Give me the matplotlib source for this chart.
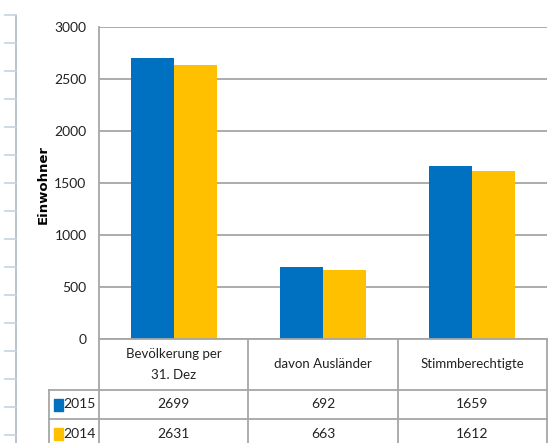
import matplotlib
matplotlib.use("Agg")
import matplotlib.pyplot as plt
from matplotlib.lines import Line2D
from matplotlib.patches import Rectangle
import numpy as np

categories = ["Bevölkerung per\n31. Dez", "davon Ausländer", "Stimmberechtigte"]
series_names = ["2015", "2014"]
values_2015 = [2699, 692, 1659]
values_2014 = [2631, 663, 1612]
y_ticks = [0, 500, 1000, 1500, 2000, 2500, 3000]
y_label = "Einwohner"
colors = ["#0070C0", "#FFC000"]

W, H = 558, 443
FONT = ["Lato", "DejaVu Sans"]
plt.rcParams["font.family"] = FONT

fig = plt.figure(figsize=(W / 100, H / 100), dpi=100)

def fx(x):
    return x / W

def fy(y):
    return 1 - y / H

ax_left, ax_right, ax_top, ax_bottom = 99, 547, 27, 339
ax = fig.add_axes([fx(ax_left), fy(ax_bottom), fx(ax_right) - fx(ax_left), fy(ax_top) - fy(ax_bottom)])

n = len(categories)
x = np.arange(n)
bw = 0.288
ax.bar(x - bw / 2, values_2015, bw, color=colors[0], zorder=3)
ax.bar(x + bw / 2, values_2014, bw, color=colors[1], zorder=3)
ax.set_xlim(-0.5, n - 0.5)
ax.set_ylim(0, 3000)
ax.set_yticks(y_ticks)
ax.set_yticklabels([str(t) for t in y_ticks], fontsize=10, color="#222222")
ax.tick_params(axis="y", length=0, pad=9)
ax.set_xticks([])
ax.grid(axis="y", color="#a6a6a6", linewidth=1.3, zorder=0)
for s in ["top", "right", "bottom"]:
    ax.spines[s].set_visible(False)
ax.spines["left"].set_color("#a6a6a6")
ax.spines["left"].set_linewidth(1.3)

fig.text(fx(43), fy(185), y_label, rotation=90, ha="center", va="center",
         fontsize=9.5, fontweight="bold", family=["DejaVu Sans"])

# table
lc = "#a6a6a6"
lw = 1.3
col_edges = [ax_left + (ax_right - ax_left) * i / n for i in range(n + 1)]
row_top, row_h1, row_h2, row_bot = 339, 390, 419, 448
tbl_left = 49

def hline(y, x0, x1):
    fig.add_artist(Line2D([fx(x0), fx(x1)], [fy(y), fy(y)], color=lc, lw=lw))

def vline(xp, y0, y1):
    fig.add_artist(Line2D([fx(xp), fx(xp)], [fy(y0), fy(y1)], color=lc, lw=lw))

hline(row_top, ax_left, ax_right)
hline(row_h1, tbl_left, ax_right)
hline(row_h2, tbl_left, ax_right)
for ce in col_edges:
    vline(ce, row_top, row_bot)
vline(tbl_left, row_h1, row_bot)

for i, c in enumerate(categories):
    cx = (col_edges[i] + col_edges[i + 1]) / 2
    fig.text(fx(cx), fy((row_top + row_h1) / 2), c, ha="center", va="center",
             fontsize=9.5, linespacing=1.9, color="#222222")

rows = [(series_names[0], values_2015, colors[0], (row_h1 + row_h2) / 2),
        (series_names[1], values_2014, colors[1], (row_h2 + row_bot) / 2)]
for name, vals, col, ry in rows:
    fig.add_artist(Rectangle((fx(54), fy(ry + 6)), fx(9), 12 / H, color=col,
                             transform=fig.transFigure))
    fig.text(fx(63.5), fy(ry), name, ha="left", va="center", fontsize=10, color="#222222")
    for i, v in enumerate(vals):
        cx = (col_edges[i] + col_edges[i + 1]) / 2
        fig.text(fx(cx), fy(ry), str(v), ha="center", va="center", fontsize=10, color="#222222")

# spreadsheet-like ruler at the left
rc = "#c5d3e3"
fig.add_artist(Line2D([fx(16), fx(16)], [fy(15), fy(443)], color="#b0b8c4", lw=1.2))
for k in range(16):
    yy = 15 + 28 * k
    fig.add_artist(Line2D([fx(5), fx(16)], [fy(yy), fy(yy)], color=rc, lw=1.2))

fig.savefig("out.png", dpi=100)
